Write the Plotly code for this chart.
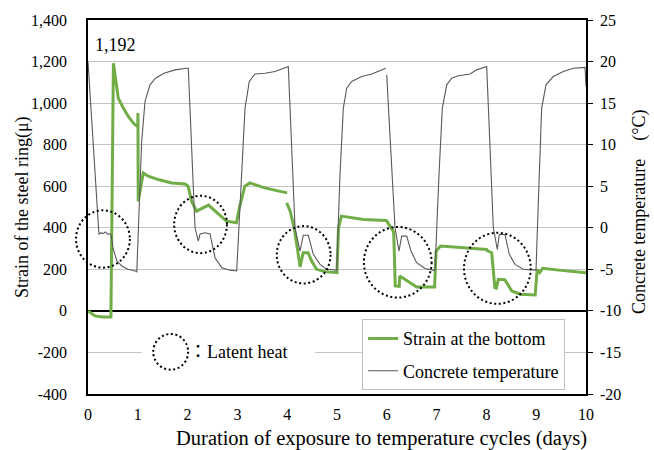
import plotly.graph_objects as go

# ---- data -----------------------------------------------------------------
# Strain of the steel ring (micro-strain) vs. exposure time (days)
strain_days = [0.00, 0.14, 0.30, 0.46, 0.51, 0.576, 0.608, 0.709, 0.809, 0.910, 0.998,
               1.003, 1.008, 1.11, 1.21, 1.41, 1.68, 1.95, 2.01, 2.08, 2.18, 2.42,
               2.78, 2.98, 3.04, 3.15, 3.25, 3.35, 3.55, 3.79, 4.00, None,
               3.99, 4.06, 4.14, 4.20, 4.26, 4.32, 4.42, 4.49, 4.59, 4.76, 4.98,
               5.00, 5.03, 5.09, 5.53, 5.99, 6.13, 6.14, 6.17, 6.25, 6.26, 6.60,
               6.96, 6.99, 7.08, 7.54, 8.006, 8.03, 8.106, 8.17, 8.20, 8.24, 8.37,
               8.51, 8.68, 8.98, 9.02, 9.07, 9.13, 9.50, 10.00]
strain_vals = [0, -24, -29, -29, 1192, 1088, 1024, 976, 936, 904, 885,
               952, 528, 664, 648, 632, 616, 611, 600, 528, 480, 509,
               432, 424, 496, 600, 616, 608, 592, 579, 568, None,
               520, 480, 400, 304, 212, 280, 280, 240, 200, 189, 184,
               184, 400, 456, 440, 435, 384, 370, 120, 118, 168, 115,
               115, 288, 312, 304, 296, 288, 280, 112, 110, 152, 150,
               96, 80, 77, 200, 185, 205, 195, 184]

# Concrete temperature (deg C) vs. exposure time (days)
temp_days = [0.00, 0.21, 0.22, 0.26, 0.30, 0.35, 0.40, 0.44, 0.47, 0.50, 0.58, 0.68, 0.80, 0.95, 0.98,
             1.078, 1.145, 1.245, 1.355, 1.526, 1.747, 1.982,
             2.014, 2.149, 2.215, 2.249, 2.35, 2.45, 2.55, 2.685, 2.85, 2.986,
             3.086, 3.153, 3.239, 3.353, 3.554, 3.755, 3.89, 4.01,
             4.022, 4.157, 4.257, 4.323, 4.424, 4.524, 4.659, 4.793, 4.96,
             4.994, 5.06, 5.127, 5.195, 5.295, 5.496, 5.697, 5.978, None,
             5.998, 6.165, 6.245, 6.299, 6.40, 6.486, 6.60, 6.767, 6.934,
             6.968, 7.048, 7.115, 7.203, 7.303, 7.436, 7.57, 7.671, 7.805, 7.992,
             8.006, 8.139, 8.219, 8.259, 8.373, 8.46, 8.574, 8.741, 8.976,
             8.996, 9.062, 9.11, 9.197, 9.343, 9.544, 9.745, 9.98, 10.00]
temp_vals = [20.0, -0.3, -0.8, -0.6, -0.7, -0.5, -0.8, -0.7, -1.0, -2.4, -4.0, -4.6, -5.0, -5.2, -5.3,
             10.4, 15.2, 17.2, 18.0, 18.6, 19.0, 19.2,
             19.2, 0.0, -1.6, -0.75, -0.6, -0.75, -3.6, -4.8, -5.1, -5.2,
             6.4, 14.4, 17.6, 18.5, 18.6, 18.8, 19.1, 19.4,
             19.4, 0.0, -2.8, -0.9, -0.9, -3.2, -4.4, -5.0, -5.1,
             -5.1, 6.4, 14.4, 16.8, 17.6, 18.2, 18.5, 19.2, None,
             18.4, 0.0, -2.8, -1.0, -1.0, -2.8, -4.2, -4.9, -5.1,
             -5.1, 6.4, 14.4, 17.2, 18.0, 18.3, 18.4, 18.5, 19.0, 19.4,
             19.4, 0.0, -2.6, -0.8, -0.8, -3.2, -4.4, -5.0, -5.1,
             -5.1, 6.4, 14.4, 17.2, 18.2, 18.8, 19.2, 19.3, 17.0]

# Latent-heat regions: centre (day, strain) and half-extent (days, strain)
latent_centres = [(0.30, 346), (2.26, 416), (4.33, 270), (6.22, 234), (8.22, 205)]
latent_half = [(0.54, 138), (0.53, 138), (0.54, 138), (0.68, 170), (0.67, 171)]

# Axis ticks
x_ticks = list(range(0, 11))
y_ticks = list(range(-400, 1401, 200))
y_tick_text = ["-400", "-200", "0", "200", "400", "600", "800", "1,000", "1,200", "1,400"]
y2_ticks = list(range(-20, 26, 5))
y2_tick_text = ["-20", "-15", "-10", "-5", "0", "5", "10", "15", "20", "25"]

# ---- styling --------------------------------------------------------------
FONT = "Liberation Serif, Times New Roman, serif"
GREEN = "#70AD47"
GREY = "#595959"
GRID = "#C4C4C4"
X_RANGE = (0, 10)
Y_RANGE = (-400, 1400)

fig = go.Figure()

fig.add_trace(go.Scatter(
    x=strain_days, y=strain_vals, mode="lines", name="Strain at the bottom",
    line=dict(color=GREEN, width=3), legendgroup="a", connectgaps=False,
))
fig.add_trace(go.Scatter(
    x=temp_days, y=temp_vals, mode="lines", name="Concrete temperature",
    line=dict(color=GREY, width=1.1), yaxis="y2", legendgroup="b", connectgaps=False,
))


def to_paper(day, strain):
    """Convert (day, strain) data units to paper coordinates."""
    px = (day - X_RANGE[0]) / (X_RANGE[1] - X_RANGE[0])
    py = (strain - Y_RANGE[0]) / (Y_RANGE[1] - Y_RANGE[0])
    return px, py


shapes = []
dot_line = dict(color="black", width=2, dash="2px,2.6px")

# dotted circles around the latent-heat plateaus (paper refs so they are not clipped)
for (cx, cy), (hx, hy) in zip(latent_centres, latent_half):
    x0, y0 = to_paper(cx - hx, cy - hy)
    x1, y1 = to_paper(cx + hx, cy + hy)
    shapes.append(dict(type="circle", xref="paper", yref="paper",
                       x0=x0, y0=y0, x1=x1, y1=y1, line=dot_line, layer="above"))

# key for the dotted circles: white box hiding the grid line, circle and caption
kx0, ky0 = to_paper(1.08, -285)
kx1, ky1 = to_paper(4.56, -115)
shapes.append(dict(type="rect", xref="paper", yref="paper", x0=kx0, y0=ky0, x1=kx1, y1=ky1,
                   fillcolor="white", line=dict(width=0), layer="above"))
cx0, cy0 = to_paper(1.66 - 0.35, -197 - 86)
cx1, cy1 = to_paper(1.66 + 0.35, -197 + 86)
shapes.append(dict(type="circle", xref="paper", yref="paper", x0=cx0, y0=cy0, x1=cx1, y1=cy1,
                   line=dot_line, layer="above"))

peak_idx = max(range(len(strain_vals)), key=lambda i: strain_vals[i] if strain_vals[i] is not None else -1e9)
peak_val = strain_vals[peak_idx]

annotations = [
    dict(x=strain_days[peak_idx], y=peak_val, xref="x", yref="y", text=f"{peak_val:,}",
         showarrow=False, yanchor="bottom", yshift=6, xshift=2,
         font=dict(family=FONT, size=18, color="black")),
    dict(x=1.98, y=-197, xref="x", yref="y", text="：Latent heat", showarrow=False,
         xanchor="left", yanchor="middle",
         font=dict(family=FONT + ", Noto Sans CJK JP", size=18, color="black")),
    dict(x=0.59, y=-0.118, xref="paper", yref="paper",
         text="Duration of exposure to temperature cycles (days)", showarrow=False,
         xanchor="center", yanchor="middle", font=dict(family=FONT, size=20.5, color="black")),
    dict(x=-0.1325, y=0.5, xref="paper", yref="paper", text="Strain of the steel ring(μ)",
         textangle=-90, showarrow=False, xanchor="center", yanchor="middle",
         font=dict(family=FONT, size=18, color="black")),
    dict(x=1.1064, y=0.489, xref="paper", yref="paper", text="Concrete temperature\u3000(°C)",
         textangle=-90, showarrow=False, xanchor="center", yanchor="middle",
         font=dict(family=FONT + ", Noto Sans CJK JP", size=18, color="black")),
]

fig.update_layout(
    width=654, height=450,
    margin=dict(l=88, r=68, t=18, b=56, pad=0),
    paper_bgcolor="white", plot_bgcolor="white",
    font=dict(family=FONT, size=16, color="black"),
    showlegend=True,
    legend=dict(
        x=0.958, y=0.200, xanchor="right", yanchor="top",
        bgcolor="white", bordercolor="#BFBFBF", borderwidth=1,
        font=dict(family=FONT, size=18, color="black"),
        tracegroupgap=6, itemwidth=30,
    ),
    xaxis=dict(
        range=list(X_RANGE), tickvals=x_ticks, ticktext=[str(t) for t in x_ticks],
        showgrid=False, zeroline=False, showline=True, linecolor="black", linewidth=1.5,
        mirror=True, ticks="", ticklabelstandoff=5,
        tickfont=dict(family=FONT, size=16, color="black"),
    ),
    yaxis=dict(
        range=list(Y_RANGE), tickvals=y_ticks, ticktext=y_tick_text,
        showgrid=True, gridcolor=GRID, gridwidth=1.3,
        zeroline=True, zerolinecolor="black", zerolinewidth=1.5,
        showline=True, linecolor="black", linewidth=1.5, ticks="", ticklabelstandoff=16,
        tickfont=dict(family=FONT, size=16, color="black"),
    ),
    yaxis2=dict(
        range=[-20, 25], tickvals=y2_ticks, ticktext=y2_tick_text, overlaying="y", side="right",
        showgrid=False, zeroline=False, showline=True, linecolor="black", linewidth=1.5,
        ticks="outside", ticklen=5, tickcolor="black", tickwidth=1.2, ticklabelstandoff=4,
        tickfont=dict(family=FONT, size=16, color="black"),
    ),
    shapes=shapes,
    annotations=annotations,
)

fig.write_html("out.html")
